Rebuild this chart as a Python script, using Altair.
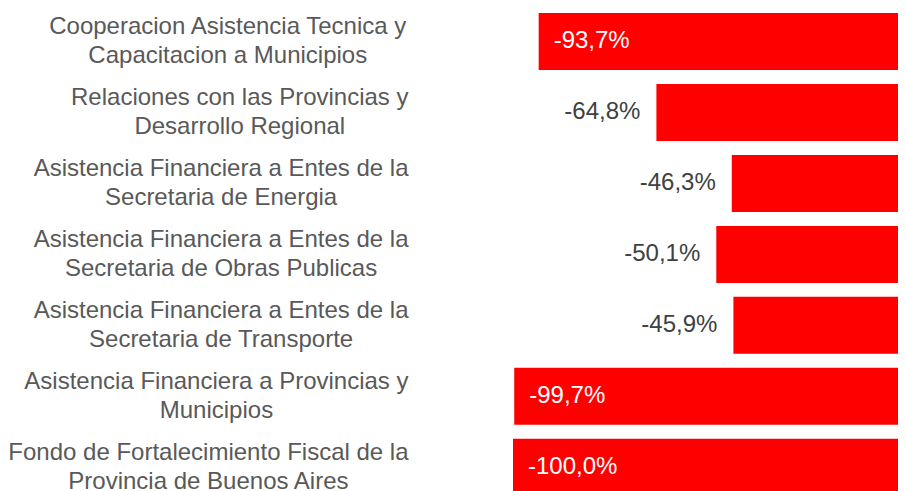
import altair as alt
import pandas as pd

categories = [
    "Cooperacion Asistencia Tecnica y\nCapacitacion a Municipios",
    "Relaciones con las Provincias y\nDesarrollo Regional",
    "Asistencia Financiera a Entes de la\nSecretaria de Energia",
    "Asistencia Financiera a Entes de la\nSecretaria de Obras Publicas",
    "Asistencia Financiera a Entes de la\nSecretaria de Transporte",
    "Asistencia Financiera a Provincias y\nMunicipios",
    "Fondo de Fortalecimiento Fiscal de la\nProvincia de Buenos Aires",
]
values = [-93.7, -64.8, -46.3, -50.1, -45.9, -99.7, -100.0]

# Arial / Liberation Sans advance widths (per 1000 em) used to centre the wrapped lines
ADV = {" ": 278, ",": 278}
ADV.update(dict(zip("abcdefghijklmnopqrstuvwxyz",
                    [556, 556, 500, 556, 556, 278, 556, 556, 222, 222, 500, 222, 833,
                     556, 556, 556, 556, 333, 500, 278, 556, 500, 722, 500, 500, 500])))
ADV.update(dict(zip("ABCDEFGHIJKLMNOPQRSTUVWXYZ",
                    [667, 667, 722, 722, 667, 611, 778, 722, 278, 500, 667, 556, 833,
                     722, 778, 667, 778, 722, 667, 611, 722, 667, 944, 667, 667, 611])))
FS = 24


def width(s):
    return sum(ADV.get(ch, 556) for ch in s) * FS / 1000.0


LABEL_RIGHT = -103
label_x = [LABEL_RIGHT - max(width(l) for l in c.split("\n")) / 2 - 1.5 for c in categories]

df = pd.DataFrame({"cat": categories, "value": values, "lx": label_x})

yenc = alt.Y("cat:N", sort=None, axis=None,
             scale=alt.Scale(range=[0, 482.8], paddingInner=0.197, paddingOuter=0))
xscale = alt.Scale(domain=[-100, -5.5], clamp=True, nice=False, zero=False)

base = alt.Chart(df).transform_calculate(
    lab="'-' + replace(format(abs(datum.value), '.1f'), '.', ',') + '%'"
)

bars = base.mark_bar(color="#FF0000").encode(
    x=alt.X("value:Q", scale=xscale, axis=None),
    x2=alt.datum(0),
    y=yenc,
)

inside = base.mark_text(align="left", baseline="middle", dx=15, fontSize=FS,
                        font="Liberation Sans", color="#FFFFFF").encode(
    x=alt.X("value:Q", scale=xscale, axis=None),
    y=yenc,
    text="lab:N",
).transform_filter("datum.value < -90")

outside = base.mark_text(align="right", baseline="middle", dx=-16, fontSize=FS,
                         font="Liberation Sans", color="#404040").encode(
    x=alt.X("value:Q", scale=xscale, axis=None),
    y=yenc,
    text="lab:N",
).transform_filter("datum.value >= -90")

labels = alt.Chart(df).mark_text(align="center", baseline="middle", lineBreak="\n",
                                 lineHeight=29, dy=-14.5, fontSize=FS, font="Liberation Sans",
                                 color="#595959").encode(
    x=alt.X("lx:Q", scale=None, axis=None),
    y=yenc,
    text="cat:N",
)

chart = alt.layer(bars, inside, outside, labels).resolve_scale(x="independent").properties(
    width=385,
    height=478,
    padding={"left": 505, "top": 5, "right": 0, "bottom": 0},
    autosize=alt.AutoSizeParams(type="none"),
).configure_view(stroke=None)

chart.save("out.html", embed_options={"renderer": "svg", "actions": False})
